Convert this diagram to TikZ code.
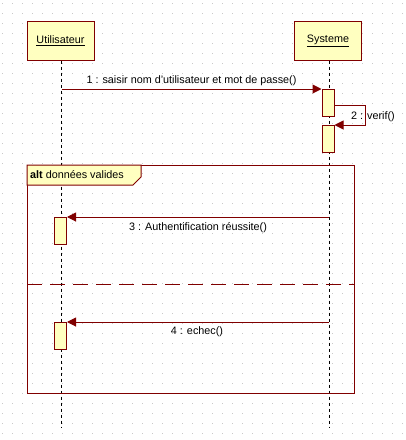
\documentclass[tikz,border=0pt]{standalone}
\usepackage{fontspec}
\setmainfont{Liberation Sans}
\usepackage{xcolor}
\usepackage{tikz}
\usetikzlibrary{shapes.geometric, arrows, arrows.meta}
\definecolor{umlred}{HTML}{800000}
\definecolor{umlfill}{HTML}{FFFFC0}
\definecolor{griddot}{HTML}{C8C8C8}
\tikzstyle{actor} = [draw=umlred, fill=umlfill, line width=1pt, minimum width=67pt, minimum height=39pt, inner sep=0pt]
\tikzstyle{actbar} = [draw=umlred, fill=umlfill, line width=1pt, minimum width=12pt, minimum height=27pt, inner sep=0pt, anchor=north]
\tikzstyle{lifeline} = [line width=0.9pt, dash pattern=on 3pt off 3pt]
\tikzstyle{msg} = [draw=umlred, line width=1pt, -{Triangle[length=9pt,width=9pt]}]
\tikzstyle{label} = [font=\fontsize{10.8}{13}\selectfont, inner sep=1pt]

\begin{document}
\begin{tikzpicture}[x=1pt, y=-1pt]
		\useasboundingbox (0,0) rectangle (406,440);
		% Background grid:
		% small gray dots every 10 units
		\foreach \i in {0,...,40}{%
			\foreach \j in {0,...,43}{%
				\fill[griddot] (2+10*\i,3+10*\j) rectangle ++(1,1);
			}
		}
		
		% Participants and their lifelines:
		\node[actor] (user) at (60.5,40.5) {\fontsize{10.8}{13}\selectfont\underline{Utilisateur}};
		\node[actor] (sys)  at (328,40.5)  {\fontsize{10.8}{13}\selectfont\underline{Systeme}};
		\coordinate (userend) at (61.5,428);
		\coordinate (sysend)  at (329,428);
		\draw[lifeline] (user.south -| userend) -- (userend);
		\draw[lifeline] (sys.south -| sysend) -- (sysend);
		
		% Activation bars:
		\node[actbar] (a1) at (328,89)  {};
		\node[actbar] (a2) at (328,125) {};
		\node[actbar] (a3) at (60.5,217) {};
		\node[actbar] (a4) at (60.5,322) {};
		
		% Combined fragment (alt):
		\node[draw=umlred, line width=1pt, minimum width=327pt, minimum height=228pt, anchor=north west, inner sep=0pt] (alt) at (27,165) {};
		\draw[draw=umlred, fill=umlfill, line width=1pt] (alt.north west) -- (141,165) -- (141,177) -- (133,185) -- (27,185) -- cycle;
		\node[label, anchor=west] (altlbl) at (29,175) {\textbf{alt} données valides};
		\draw[draw=umlred, line width=1pt, dash pattern=on 15pt off 8pt] (alt.west |- 0,284) -- (alt.east |- 0,284);
		
		% Messages:
		\draw[msg] (userend |- a1.north) -- (a1.north west)
			node[label, midway, above=2pt] {1 : saisir nom d'utilisateur et mot de passe()};
		\draw[msg] ([yshift=-2pt]a1.east) -- ++(31,0) |- (a2.north east);
		\node[label, anchor=west] (verif) at (350,117) {2 : verif()};
		\draw[msg] (sysend |- a3.north) -- (a3.north east);
		\node[label] (m3) at (198,228) {3 : Authentification réussite()};
		\draw[msg] (sysend |- a4.north) -- (a4.north east);
		\node[label] (m4) at (197,332) {4 : echec()};
		
		\end{tikzpicture}
\end{document}
